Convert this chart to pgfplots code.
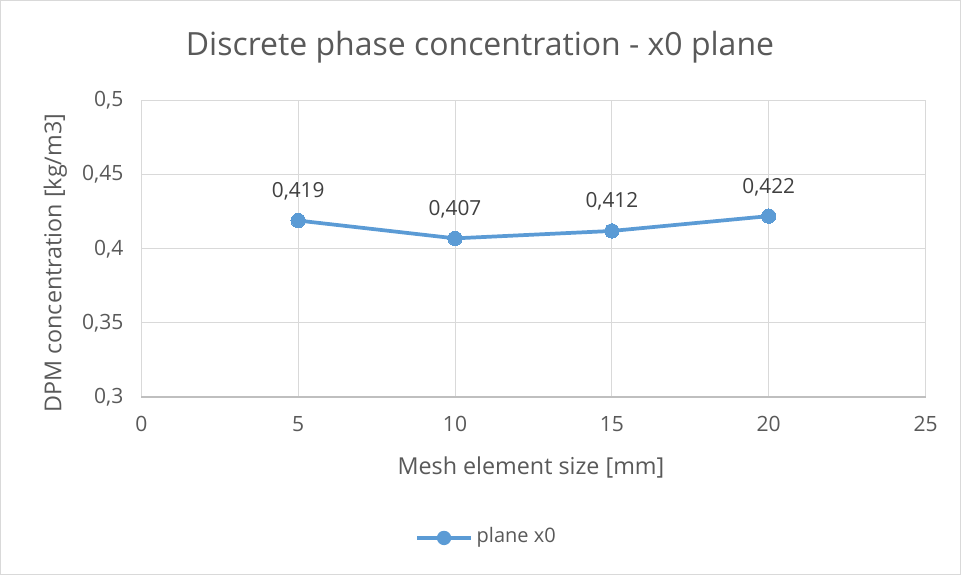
\documentclass[border=0pt]{standalone}
\usepackage{pgfplots}
\pgfplotsset{compat=1.18}
\usepackage{fontspec}
\setmainfont{Open Sans}
\definecolor{txt}{HTML}{595959}
\definecolor{dlab}{HTML}{404040}
\definecolor{gridc}{HTML}{D9D9D9}
\definecolor{axc}{HTML}{BFBFBF}
\definecolor{ser}{HTML}{5B9BD5}
\begin{document}
\begin{tikzpicture}[x=0.75pt,y=0.75pt]
% chart frame
\draw[gridc, line width=0.75pt, fill=white] (-141,-178) rectangle (820,397);
\begin{axis}[
  at={(0,0)}, anchor=south west,
  scale only axis, width=588.75pt, height=222.75pt,
  xmin=0, xmax=25, ymin=0.3, ymax=0.5,
  xtick={0,5,...,25}, ytick={0.3,0.35,0.4,0.45,0.5},
  yticklabels={0{,}3,0{,}35,0{,}4,0{,}45,0{,}5},
  /pgf/number format/assume math mode=true,
  grid=major, major grid style={gridc, line width=0.75pt},
  axis line style={draw=none},
  tick style={draw=none},
  ticklabel style={font=\fontsize{15.8}{18}\selectfont, text=txt},
  xticklabel style={yshift=-11pt},
  yticklabel style={xshift=-10pt},
  clip=false,
]
\draw[axc, line width=1pt] (axis cs:0,0.3) -- (axis cs:25,0.3);
\addplot[ser, line width=2.8pt, mark=*, mark size=5.4pt,
  mark options={fill=ser, draw=ser, line width=0pt},
  nodes near coords={\pgfmathprintnumber[fixed,fixed zerofill,precision=3,use comma,assume math mode=true]{\pgfplotspointmeta}},
  every node near coord/.append style={font=\fontsize{15.6}{18}\selectfont, text=dlab, yshift=12pt},
] coordinates {(5,0.419) (10,0.407) (15,0.412) (20,0.422)};
\end{axis}
% title
\node[text=txt, font=\fontsize{24}{28}\selectfont] at (339,350) {Discrete phase concentration - x0 plane};
% axis titles
\node[text=txt, font=\fontsize{17.5}{21}\selectfont] at (390,-70) {Mesh element size [mm]};
\node[text=txt, font=\fontsize{17.5}{21}\selectfont, rotate=90] at (-86,134) {DPM concentration [kg/m3]};
% legend
\draw[ser, line width=2.8pt] (276,-141) -- (330,-141);
\fill[ser] (303,-141) circle (5.4pt);
\node[text=txt, font=\fontsize{15}{18}\selectfont, anchor=west] at (331,-140) {plane x0};
\end{tikzpicture}
\end{document}
